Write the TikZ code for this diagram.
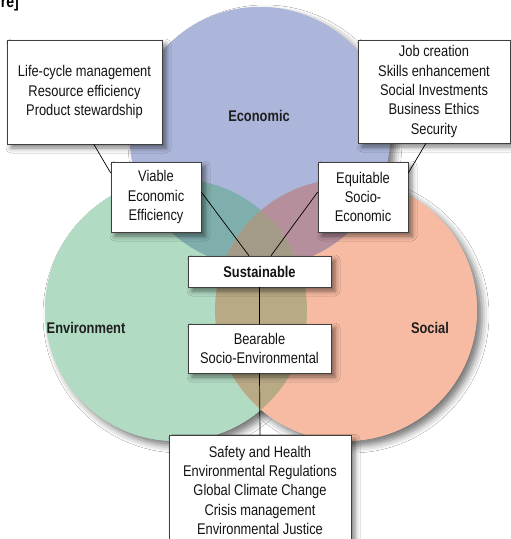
\documentclass[tikz,border=0pt]{standalone}
\usepackage{fontspec}
\setmainfont[FakeStretch=0.83]{Liberation Sans}
\usetikzlibrary{calc,shadows.blur}
\definecolor{ecoC}{HTML}{ACB6DA}
\definecolor{envC}{HTML}{B2DBC3}
\definecolor{socC}{HTML}{F7BBA3}
\definecolor{ecoenvC}{HTML}{7EAFAC}
\definecolor{ecosocC}{HTML}{B68F9C}
\definecolor{envsocC}{HTML}{B9AA86}
\definecolor{allC}{HTML}{A49A88}
\tikzset{
  infobox/.style={draw=black!75, line width=0.6pt, fill=white, align=center, inner sep=4pt,
    text=black!92, font=\fontsize{15.5}{19.3}\selectfont,
    blur shadow={shadow xshift=4pt, shadow yshift=-4pt, shadow blur radius=5pt, shadow opacity=50}},
  circlabel/.style={font=\fontsize{15.5}{17}\selectfont\bfseries, text=black!88},
  conn/.style={draw=black, line width=0.7pt},
  circshadow/.style={blur shadow={shadow xshift=5pt, shadow yshift=-5pt, shadow blur radius=7pt, shadow opacity=55}}
}
\begin{document}
\begin{tikzpicture}[x=1pt,y=-1pt]
\useasboundingbox (0,0) rectangle (511,539);
\fill[white] (0,0) rectangle (511,539);
% circles
\coordinate (ce) at (260,137);
\coordinate (cv) at (176,310);
\coordinate (cs) at (346,310);
\fill[envC, circshadow] (cv) circle[radius=131pt];
\fill[socC, circshadow] (cs) circle[radius=131pt];
\fill[ecoC, circshadow] (ce) circle[radius=130pt];
\fill[envC] (cv) circle[radius=131pt];
\fill[socC] (cs) circle[radius=131pt];
\begin{scope}
  \clip (ce) circle[radius=130pt];
  \fill[ecoC] (ce) circle[radius=130pt];
  \fill[ecoenvC] (cv) circle[radius=131pt];
  \fill[ecosocC] (cs) circle[radius=131pt];
\end{scope}
\begin{scope}
  \clip (cv) circle[radius=131pt];
  \fill[envsocC] (cs) circle[radius=131pt];
  \clip (cs) circle[radius=131pt];
  \fill[allC] (ce) circle[radius=130pt];
\end{scope}
% title fragment
\node[anchor=base east, inner sep=0pt, font=\fontsize{17}{20}\selectfont\bfseries] (title) at (19,7) {re]};
% circle labels
\node[circlabel] (leco) at (259,116) {Economic};
\node[circlabel] (lenv) at (86,328) {Environment};
\node[circlabel] (lsoc) at (430,328) {Social};
% boxes
\node[infobox, minimum width=155pt, minimum height=104pt] (tl) at (84.5,92)
  {Life-cycle management\\Resource efficiency\\Product stewardship};
\node[infobox, minimum width=152pt, minimum height=103pt] (tr) at (434,91.5)
  {Job creation\\Skills enhancement\\Social Investments\\Business Ethics\\Security};
\node[infobox, minimum width=90pt, minimum height=70pt] (vi) at (156,197)
  {Viable\\Economic\\Efficiency};
\node[infobox, minimum width=90pt, minimum height=70pt] (eq) at (363,197)
  {Equitable\\Socio-\\Economic};
\node[infobox, minimum width=143pt, minimum height=31pt, font=\fontsize{15.5}{19.3}\selectfont\bfseries] (su) at (259.5,271.5)
  {Sustainable};
\node[infobox, minimum width=143pt, minimum height=49pt] (be) at (259.5,348.5)
  {Bearable\\Socio-Environmental};
\node[infobox, minimum width=182pt, minimum height=110pt, anchor=north] (bo) at (260,435)
  {Safety and Health\\Environmental Regulations\\Global Climate Change\\Crisis management\\Environmental Justice};
% connectors (border to border)
\draw[conn] ($(tl.south west)!0.56!(tl.south east)$) -- ($(vi.north west)!0.16!(vi.south west)$);
\draw[conn] ($(vi.north east)!0.43!(vi.south east)$) -- ($(su.north west)!0.427!(su.north east)$);
\draw[conn] ($(tr.south west)!0.447!(tr.south east)$) -- ($(eq.north east)!0.16!(eq.south east)$);
\draw[conn] ($(eq.north west)!0.43!(eq.south west)$) -- ($(su.north west)!0.58!(su.north east)$);
\draw[conn] (su.south) -- (be.north);
\draw[conn] (be.south) -- (bo.north);
\end{tikzpicture}
\end{document}
